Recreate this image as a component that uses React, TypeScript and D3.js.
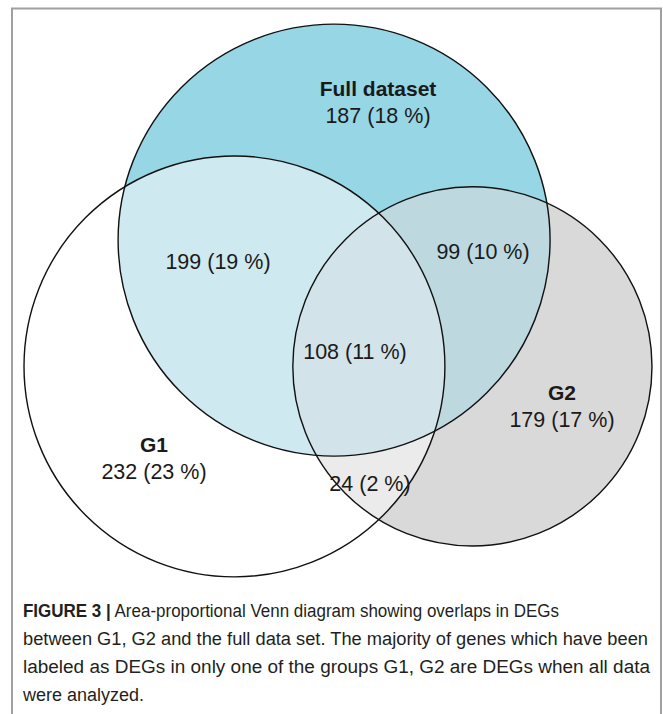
import * as d3 from 'd3'

// region counts of the area-proportional Venn (G1, G2, Full dataset)
const regionKeys = ['G1', 'G2', 'Full', 'G1&Full', 'G2&Full', 'G1&G2', 'G1&G2&Full']
const regionCounts = [232, 179, 187, 199, 99, 24, 108]
const setKeys = ['G1', 'G2', 'Full']
const setTitles = ['G1', 'G2', 'Full dataset']

const captionBold = 'FIGURE 3 |'
const captionLines = [
    ' Area-proportional Venn diagram showing overlaps in DEGs',
    'between G1, G2 and the full data set. The majority of genes which have been',
    'labeled as DEGs in only one of the groups G1, G2 are DEGs when all data',
    'were analyzed.',
]
// width each caption line takes in the figure (px), null = natural
const captionWidths: (number | null)[] = [536, 625, 627, null]

// label anchor positions (px)
const labelPos: Record<string, [number, number]> = {
    'G1': [154, 479],
    'G2': [562, 427],
    'Full': [378, 123],
    'G1&Full': [218, 269],
    'G2&Full': [483, 259],
    'G1&G2': [370, 491],
    'G1&G2&Full': [355, 359],
}

function lensArea(r1: number, r2: number, d: number): number {
    if (d >= r1 + r2) return 0
    if (d <= Math.abs(r1 - r2)) return Math.PI * Math.min(r1, r2) ** 2
    const a = r1 * r1 * Math.acos((d * d + r1 * r1 - r2 * r2) / (2 * d * r1))
    const b = r2 * r2 * Math.acos((d * d + r2 * r2 - r1 * r1) / (2 * d * r2))
    const c = 0.5 * Math.sqrt((-d + r1 + r2) * (d + r1 - r2) * (d - r1 + r2) * (d + r1 + r2))
    return a + b - c
}

function distanceFor(r1: number, r2: number, overlap: number): number {
    let lo = Math.abs(r1 - r2), hi = r1 + r2
    for (let i = 0; i < 60; i++) {
        const mid = (lo + hi) / 2
        if (lensArea(r1, r2, mid) > overlap) lo = mid
        else hi = mid
    }
    return (lo + hi) / 2
}

function setTotal(key: string): number {
    let t = 0
    regionKeys.forEach((k, i) => { if (k.split('&').includes(key)) t += regionCounts[i] })
    return t
}
function pairTotal(a: string, b: string): number {
    let t = 0
    regionKeys.forEach((k, i) => {
        const p = k.split('&')
        if (p.includes(a) && p.includes(b)) t += regionCounts[i]
    })
    return t
}

export default function App() {
    const W = 663, H = 714
    const total = d3.sum(regionCounts)

    // radii in area units
    const r = setKeys.map(k => Math.sqrt(setTotal(k) / Math.PI))
    const d12 = distanceFor(r[0], r[1], pairTotal('G1', 'G2'))
    const d1F = distanceFor(r[0], r[2], pairTotal('G1', 'Full'))
    const d2F = distanceFor(r[1], r[2], pairTotal('G2', 'Full'))
    const fx = (d1F * d1F - d2F * d2F + d12 * d12) / (2 * d12)
    const fy = -Math.sqrt(Math.max(0, d1F * d1F - fx * fx))
    const cx = [0, d12, fx]
    const cy = [0, 0, fy]

    const minX = d3.min(cx.map((c, i) => c - r[i]))!
    const maxX = d3.max(cx.map((c, i) => c + r[i]))!
    const minY = d3.min(cy.map((c, i) => c - r[i]))!
    const maxY = d3.max(cy.map((c, i) => c + r[i]))!
    const x = d3.scaleLinear().domain([minX, maxX]).range([24, 652])
    const k = (652 - 24) / (maxX - minX)
    const midY = (minY + maxY) / 2
    const y = d3.scaleLinear().domain([midY - 1, midY + 1]).range([300.5 - k, 300.5 + k])

    const circ = setKeys.map((key, i) => ({ key, cx: x(cx[i]), cy: y(cy[i]), r: r[i] * k }))
    const [g1, g2, full] = circ

    const fmt = (v: number) => `${v} (${Math.round((v / total) * 100)} %)`
    const font = "'Liberation Sans', Arial, Helvetica, sans-serif"

    return (
        <div style={{ position: 'absolute', left: 0, top: 0 }}>
            <svg width={W} height={H} style={{ display: 'block', background: '#fff' }}>
                <defs>
                    {circ.map(c => (
                        <clipPath id={'clip-' + c.key} key={c.key}>
                            <circle cx={c.cx} cy={c.cy} r={c.r} />
                        </clipPath>
                    ))}
                </defs>
                {/* frame */}
                <path d={`M12,${H} V8.5 H661 V${H}`} fill="none" stroke="#a0a0a0" strokeWidth={2} />

                {/* region fills */}
                <circle cx={full.cx} cy={full.cy} r={full.r} fill="#96d6e5" />
                <circle cx={g2.cx} cy={g2.cy} r={g2.r} fill="#d9d9d9" />
                <circle cx={g1.cx} cy={g1.cy} r={g1.r} fill="#ffffff" />
                <g clipPath="url(#clip-G1)">
                    <circle cx={full.cx} cy={full.cy} r={full.r} fill="#cfe9f0" />
                </g>
                <g clipPath="url(#clip-Full)">
                    <circle cx={g2.cx} cy={g2.cy} r={g2.r} fill="#bdd9df" />
                </g>
                <g clipPath="url(#clip-G1)">
                    <circle cx={g2.cx} cy={g2.cy} r={g2.r} fill="#ebebeb" />
                </g>
                <g clipPath="url(#clip-G1)">
                    <g clipPath="url(#clip-G2)">
                        <circle cx={full.cx} cy={full.cy} r={full.r} fill="#d3e3ea" />
                    </g>
                </g>
                {circ.map(c => (
                    <circle key={'o' + c.key} cx={c.cx} cy={c.cy} r={c.r} fill="none" stroke="#111" strokeWidth={1.4} />
                ))}

                {/* labels */}
                <g fontFamily={font} fill="#1a1a1a" textAnchor="middle">
                    {regionKeys.map((key, i) => {
                        const [lx, ly] = labelPos[key]
                        const si = setKeys.indexOf(key)
                        return (
                            <g key={key}>
                                {si >= 0 && (
                                    <text x={lx} y={ly - 27} fontSize={21} fontWeight="bold">{setTitles[si]}</text>
                                )}
                                <text x={lx} y={ly} fontSize={21.5}>{fmt(regionCounts[i])}</text>
                            </g>
                        )
                    })}
                </g>

                {/* caption */}
                <g fontFamily={font} fill="#231f20" fontSize={18}>
                    {captionLines.map((line, i) => {
                        const w = captionWidths[i]
                        return (
                            <text key={i} x={23} y={617 + i * 28}
                                {...(w ? { textLength: w, lengthAdjust: 'spacingAndGlyphs' } : {})}>
                                {i === 0 && <tspan fontWeight="bold">{captionBold}</tspan>}
                                {line}
                            </text>
                        )
                    })}
                </g>
            </svg>
        </div>
    )
}
